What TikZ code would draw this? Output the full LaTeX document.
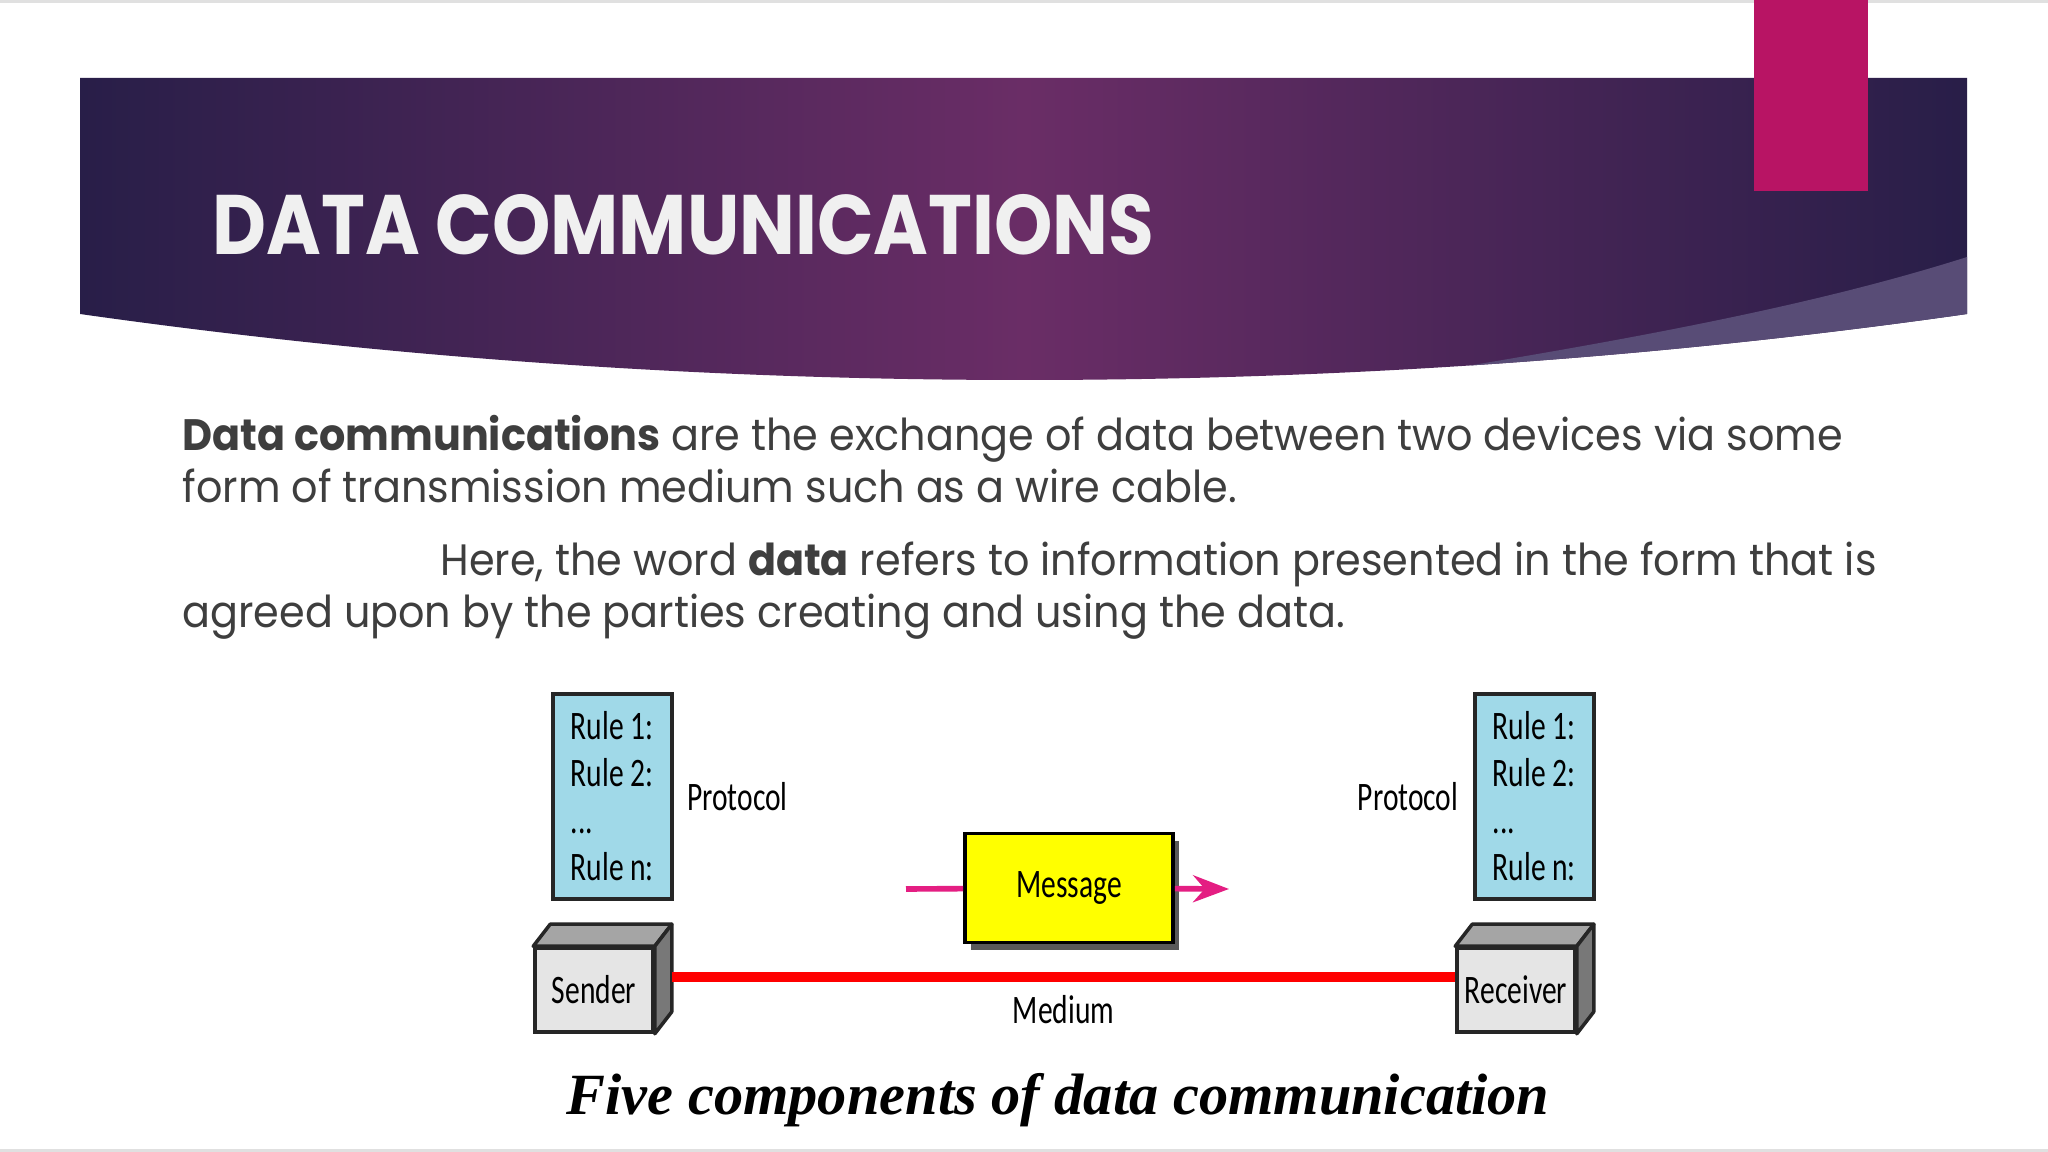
\documentclass[tikz,border=0pt]{standalone}
\usepackage{fontspec}
\setmainfont{Poppins}[FakeStretch=0.94]
\newfontfamily\titlefont[FakeStretch=0.88]{Poppins}
\newfontfamily\diagfont[FakeStretch=0.73]{Carlito}
\newfontfamily\capfont{Liberation Serif}
\usepackage{tikz}
\usetikzlibrary{arrows.meta,positioning,calc,shadows}
\definecolor{bannerdark}{RGB}{40, 30, 72}
\definecolor{bannermid}{RGB}{106, 45, 102}
\definecolor{bannerswoosh}{RGB}{88, 76, 118}
\definecolor{slidepink}{RGB}{184, 20, 100}
\definecolor{bodygray}{RGB}{62, 62, 62}
\definecolor{rulecyan}{RGB}{160, 217, 232}
\definecolor{msgyellow}{RGB}{255, 255, 0}
\definecolor{msgpink}{RGB}{228, 30, 130}
\definecolor{cubetop}{RGB}{165, 165, 165}
\definecolor{cubeside}{RGB}{120, 120, 120}

\begin{document}
\begin{tikzpicture}[x=0.01cm, y=-0.01cm, >=Stealth,
    rulebox/.style={draw=black!85, line width=1pt, fill=rulecyan, align=left, minimum width=1.19cm, minimum height=2.05cm, inner sep=0pt, anchor=north west, font=\diagfont\fontsize{11.5}{13.4}\selectfont},
    devbox/.style={draw=black!85, line width=1pt, fill=black!10, minimum width=1.18cm, minimum height=0.84cm, inner sep=0pt, font=\diagfont\fontsize{11.5}{13.4}\selectfont},
    lbl/.style={inner sep=0pt, text=black, font=\diagfont\fontsize{11.5}{13.4}\selectfont},
    defn/.style={anchor=base west, inner sep=0pt, text=bodygray, font=\fontsize{12.5}{15}\selectfont}]
    \useasboundingbox (0,0) rectangle (2048,1152);
    \fill[white] (0,0) rectangle (2048,1152);
    \draw[black!12, line width=1pt] (0,1) -- (2048,1);
    \draw[black!12, line width=1pt] (0,1151) -- (2048,1151);

    % title banner
    \path[left color=bannerdark, right color=bannerdark, middle color=bannermid] (80,78) -- (1967,78) -- (1967,314) .. controls (1350,402) and (700,402) .. (80,314) -- cycle;
    \begin{scope}
        \clip (80,78) -- (1967,78) -- (1967,314) .. controls (1350,402) and (700,402) .. (80,314) -- cycle;
        \fill[bannerswoosh] (1967,257) .. controls (1800,310) and (1600,345) .. (1350,385) -- (1350,420) -- (1967,420) -- cycle;
    \end{scope}
    \fill[slidepink] (1754,0) rectangle (1868,191);
    \node [anchor=base west, inner sep=0pt, text=white!94!black, font=\titlefont\bfseries\fontsize{24}{28}\selectfont] (title) at (212,255) {DATA COMMUNICATIONS};

    % definition text
    \node [defn] (defn1) at (182,451) {\textbf{Data communications} are the exchange of data between two devices via some};
    \node [defn] (defn2) at (182,503) {form of transmission medium such as a wire cable.};
    \node [defn] (defn3) at (440,575) {Here, the word \textbf{data} refers to information presented in the form that is};
    \node [defn] (defn4) at (182,627) {agreed upon by the parties creating and using the data.};

    % protocols
    \node [rulebox] (rulesL) at (551,692) {Rule 1:\\Rule 2:\\...\\Rule n:};
    \node [rulebox] (rulesR) at (1473,692) {Rule 1:\\Rule 2:\\...\\Rule n:};
    \node [lbl, right=0.13cm of rulesL] (protoL) {Protocol};
    \node [lbl, left=0.14cm of rulesR] (protoR) {Protocol};

    % message
    \node [draw=black, line width=1pt, fill=msgyellow, minimum width=2.08cm, minimum height=1.09cm, font=\diagfont\fontsize{11.5}{13.4}\selectfont, drop shadow={shadow xshift=1.8pt, shadow yshift=-2.2pt, fill=black!65, opacity=1}] (message) at (1069,888) {Message};
    \coordinate (msgin) at (906,889);
    \coordinate (msgout) at (1229,889);
    \draw [msgpink, line width=1.6pt] (msgin) -- (message);
    \draw [->, msgpink, line width=1.6pt] (message) -- (msgout);

    % sender and receiver
    \node [devbox] (sender) at (594,990) {Sender};
    \node [devbox] (receiver) at (1516,990) {Receiver};
    \foreach \b in {sender,receiver} {
        \filldraw [fill=cubetop, draw=black!85, line width=1pt, line join=round] (\b.north west) -- ++(17,-22) -- ($(\b.north east)+(17,-22)$) -- (\b.north east) -- cycle;
        \filldraw [fill=cubeside, draw=black!85, line width=1pt, line join=round] (\b.north east) -- ++(17,-22) -- ($(\b.south east)+(17,-22)$) -- (\b.south east) -- cycle;
    }
    \draw [red, line width=3pt] ($(sender.east)+(17,-13)$) -- node[lbl, midway, below=0.13cm] (medium) {Medium} ($(receiver.west)+(0,-13)$);

    \node [inner sep=0pt, font=\capfont\bfseries\itshape\fontsize{16.6}{19}\selectfont] (caption) at (1058,1100) {Five components of data communication};
\end{tikzpicture}
\end{document}
